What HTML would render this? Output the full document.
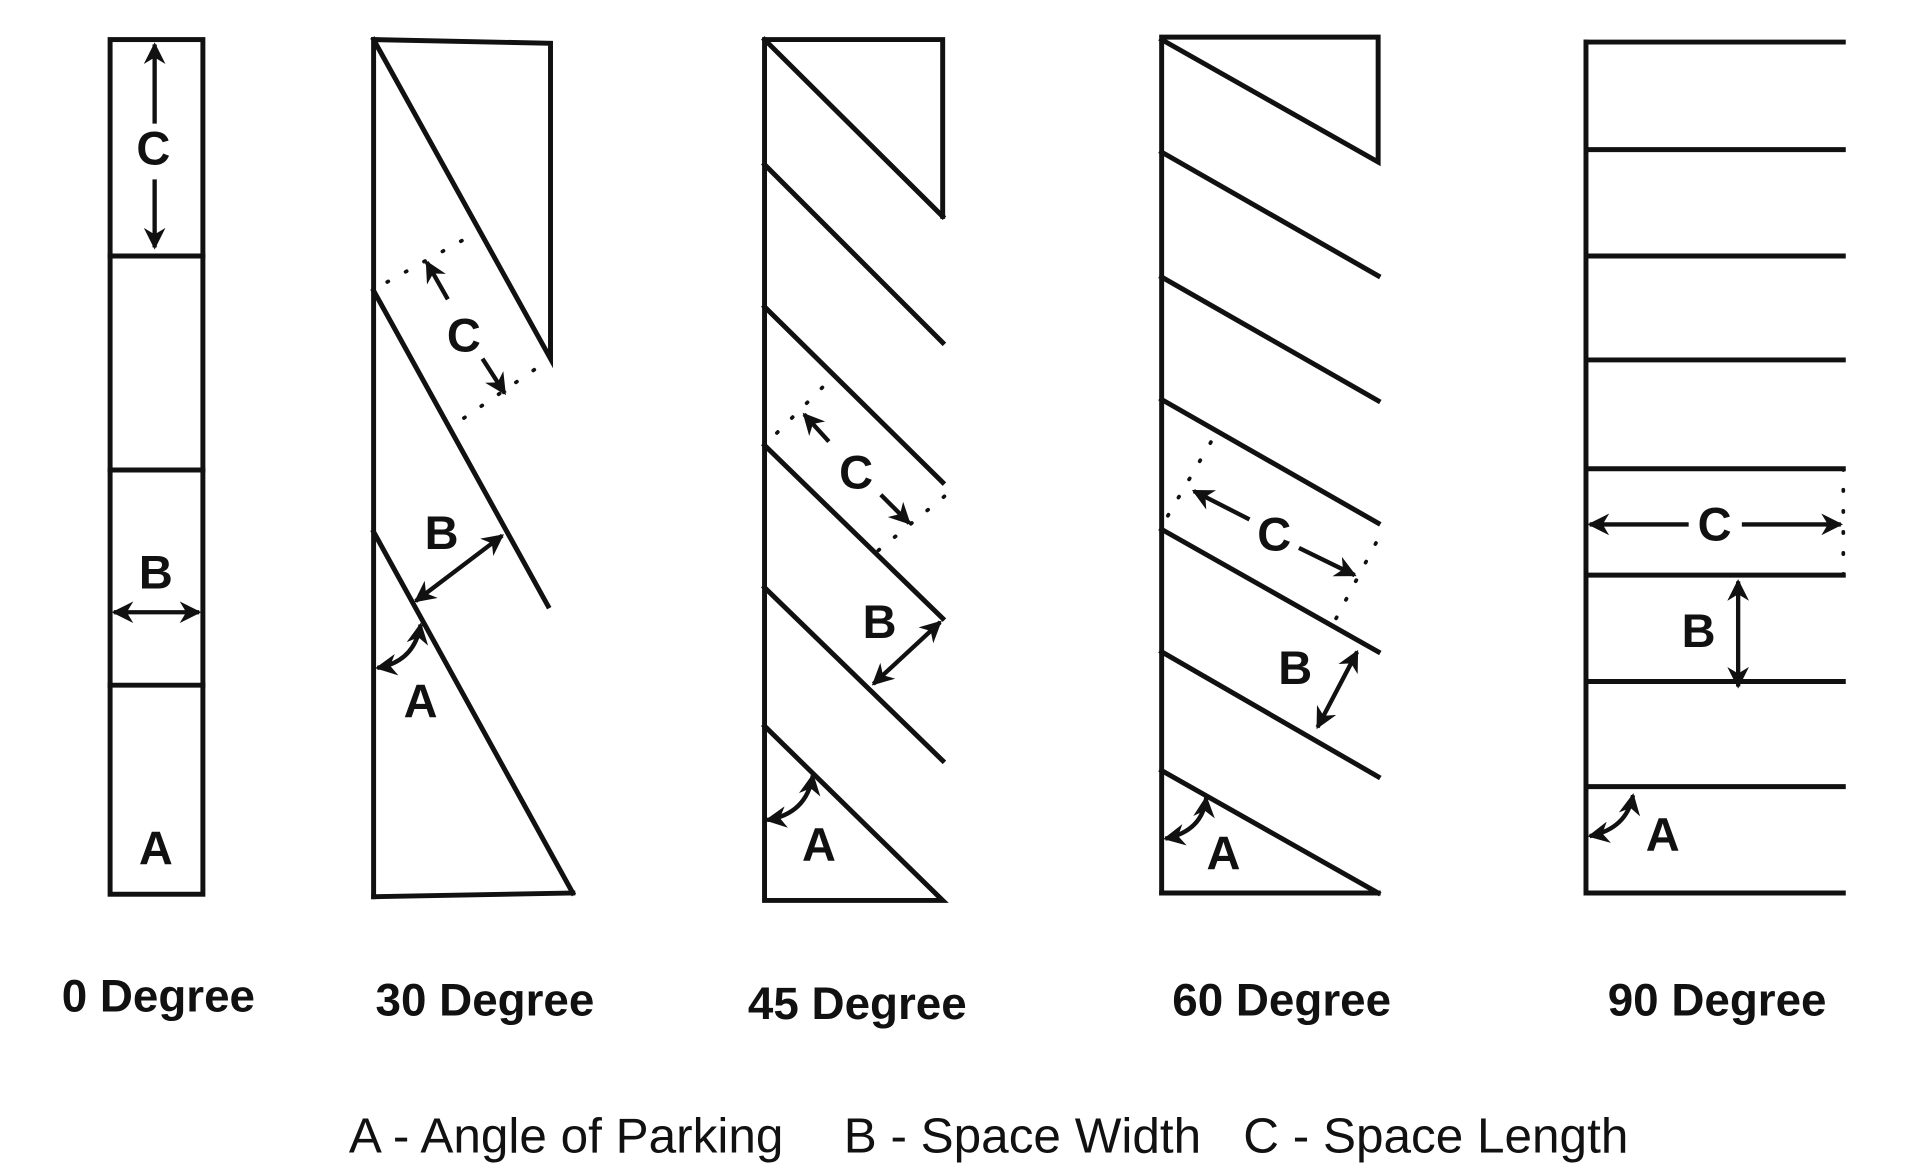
<!DOCTYPE html>
<html><head><meta charset="utf-8"><style>
html,body{margin:0;padding:0;background:#fff;}
svg{display:block;}
.b{font-family:"Liberation Sans",sans-serif;font-weight:bold;fill:#111;}
</style></head><body>
<svg width="1920" height="1175" viewBox="0 0 1552 950" preserveAspectRatio="none" xmlns="http://www.w3.org/2000/svg">
<defs>
<marker id="ah" viewBox="0 0 10 10" refX="9" refY="5" markerWidth="5" markerHeight="5" orient="auto-start-reverse">
<path d="M0,0 L10,5 L0,10 L3,5 z" fill="#111"/></marker>
</defs>
<g stroke="#111" stroke-width="4" fill="none" stroke-linecap="square">
<rect x="89" y="32" width="75" height="691"/>
<line x1="89" y1="207" x2="164" y2="207"/><line x1="89" y1="380" x2="164" y2="380"/><line x1="89" y1="554" x2="164" y2="554"/>
<polyline points="302,725 302,32 445,35 445,290 302,32"/>
<line x1="302" y1="725" x2="463" y2="722"/>
<line x1="302" y1="430" x2="463" y2="722"/>
<line x1="302" y1="235" x2="443" y2="490"/>
<polyline points="762,175 762,32 618,32 618,728 762,728 618,587"/>
<line x1="618" y1="32" x2="762" y2="175"/>
<line x1="618" y1="133" x2="762" y2="277"/>
<line x1="618" y1="248" x2="762" y2="390"/>
<line x1="618" y1="360" x2="762" y2="500"/>
<line x1="618" y1="475" x2="762" y2="615"/>
<polyline points="939,722 939,30 1114,30 1114,131 939,32"/>
<line x1="939" y1="722" x2="1114" y2="722"/><line x1="939" y1="623" x2="1114" y2="722"/>
<line x1="939" y1="123" x2="1114" y2="223"/>
<line x1="939" y1="224" x2="1114" y2="324"/>
<line x1="939" y1="323" x2="1114" y2="423"/>
<line x1="939" y1="428" x2="1114" y2="527"/>
<line x1="939" y1="527" x2="1114" y2="628"/>
<line x1="1282" y1="34" x2="1282" y2="722"/>
<g>
<line x1="1282" y1="34" x2="1490" y2="34"/><line x1="1282" y1="121" x2="1490" y2="121"/>
<line x1="1282" y1="207" x2="1490" y2="207"/><line x1="1282" y1="291" x2="1490" y2="291"/>
<line x1="1282" y1="379" x2="1490" y2="379"/><line x1="1282" y1="465" x2="1490" y2="465"/>
<line x1="1282" y1="551" x2="1490" y2="551"/><line x1="1282" y1="636" x2="1490" y2="636"/>
<line x1="1282" y1="722" x2="1490" y2="722"/>
</g>
</g>
<g stroke="#111" stroke-width="3" stroke-dasharray="1 16" stroke-linecap="round" fill="none">
<line x1="313" y1="228" x2="378" y2="192"/>
<line x1="375" y1="338" x2="442" y2="292"/>
<line x1="628" y1="350" x2="668" y2="310"/>
<line x1="710" y1="445" x2="765" y2="400"/>
<line x1="944" y1="417" x2="982" y2="352"/>
<line x1="1080" y1="500" x2="1117" y2="430"/>
<line x1="1490" y1="379" x2="1490" y2="465"/>
</g>
<g stroke="#111" stroke-width="3.5" fill="none" marker-start="url(#ah)" marker-end="url(#ah)">
<line x1="125" y1="36" x2="125" y2="100" marker-end="none"/>
<line x1="125" y1="145" x2="125" y2="200" marker-start="none"/>
<line x1="92" y1="495" x2="161" y2="495"/>
<line x1="345" y1="212" x2="362" y2="242" marker-end="none"/>
<line x1="390" y1="290" x2="408" y2="318" marker-start="none"/>
<line x1="336" y1="486" x2="406" y2="433"/>
<path d="M305,540 Q335,535 340,505"/>
<line x1="650" y1="335" x2="670" y2="357" marker-end="none"/>
<line x1="712" y1="400" x2="735" y2="423" marker-start="none"/>
<line x1="760" y1="503" x2="706" y2="553"/>
<path d="M620,663 Q652,658 657,627"/>
<line x1="965" y1="397" x2="1010" y2="420" marker-end="none"/>
<line x1="1050" y1="443" x2="1095" y2="465" marker-start="none"/>
<line x1="1097" y1="527" x2="1065" y2="588"/>
<path d="M942,678 Q972,672 975,645"/>
<line x1="1285" y1="424" x2="1365" y2="424" marker-end="none"/>
<line x1="1408" y1="424" x2="1488" y2="424" marker-start="none"/>
<line x1="1405" y1="470" x2="1405" y2="555"/>
<path d="M1285,676 Q1315,670 1320,643"/>
</g>
<g class="b" font-size="38" text-anchor="middle">
<text x="124" y="133">C</text><text x="126" y="476">B</text><text x="126" y="699">A</text>
<text x="375" y="284">C</text><text x="357" y="444">B</text><text x="340" y="580">A</text>
<text x="692" y="395">C</text><text x="711" y="516">B</text><text x="662" y="696">A</text>
<text x="1030" y="445">C</text><text x="1047" y="553">B</text><text x="989" y="703">A</text>
<text x="1386" y="437">C</text><text x="1373" y="523">B</text><text x="1344" y="688">A</text>
</g>
<g class="b" font-size="37" text-anchor="middle">
<text x="128" y="818">0 Degree</text>
<text x="392" y="821">30 Degree</text>
<text x="693" y="824">45 Degree</text>
<text x="1036" y="821">60 Degree</text>
<text x="1388" y="821">90 Degree</text>
</g>
<g font-family="Liberation Sans,sans-serif" font-size="40" fill="#111">
<text x="282" y="932">A - Angle of Parking</text>
<text x="682" y="932">B - Space Width</text>
<text x="1005" y="932">C - Space Length</text>
</g>
</svg>
</body></html>
